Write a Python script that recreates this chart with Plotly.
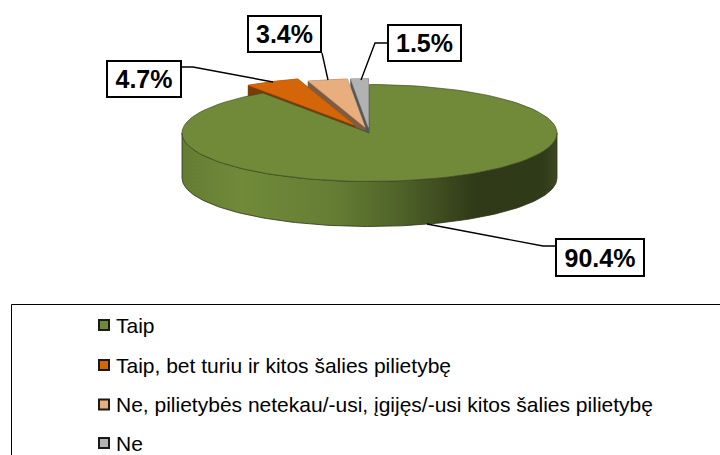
import numpy as np
import plotly.graph_objects as go

# --- data ---
categories = ["Taip", "Taip, bet turiu ir kitos šalies pilietybę",
              "Ne, pilietybės netekau/-usi, įgijęs/-usi kitos šalies pilietybę", "Ne"]
values = [90.4, 4.7, 3.4, 1.5]

# --- style ---
top_colors = ["#708A3A", "#D46508", "#E8AE7E", "#B2B2B2"]
wall_colors = ["#4f6329", "#7a3b08", "#7d5c42", "#55585c"]
explode = [0.0, 0.18, 0.12, 0.12]
CX, CY, RX, RY, DEPTH = 369.5, 133.0, 187.5, 48.5, 45.0
FONT = "Liberation Sans"

label_boxes = [(600, 257.5, 90, 39), (144, 79, 76, 38), (284.5, 34, 75, 38), (424.5, 43, 75, 38)]
leaders = [
    ([555, 543, 427], [246, 246, 224]),
    ([182, 193, 273], [67, 67, 82]),
    ([322, 328], [53, 80]),
    ([387, 375, 361], [43, 43, 80]),
]


def ell(theta_deg, dx=0.0, dy=0.0):
    t = np.radians(theta_deg)
    return CX + RX * np.sin(t) + dx, CY - RY * np.cos(t) + dy


def sector(a0, a1, dx=0.0, dy=0.0, n=120):
    th = np.linspace(a0, a1, n)
    xs, ys = ell(th, dx, dy)
    return [CX + dx, *xs, CX + dx], [CY + dy, *ys, CY + dy]


def poly(xs, ys, color, lw=0.5):
    return go.Scatter(x=list(xs), y=list(ys), mode="lines", fill="toself", fillcolor=color,
                      line=dict(color=color, width=lw), hoverinfo="skip", showlegend=False)


def slice_traces(a0, a1, e, top, wall):
    mid = np.radians((a0 + a1) / 2)
    dx, dy = RX * e * np.sin(mid), -RY * e * np.cos(mid)
    out = []
    px, py = sector(a0, a1, dx, dy + DEPTH)
    out.append(poly(px, py, wall))
    for a in (a0, a1):
        ex, ey = ell(a, dx, dy)
        out.append(poly([CX + dx, ex, ex, CX + dx, CX + dx],
                        [CY + dy, ey, ey + DEPTH, CY + dy + DEPTH, CY + dy], wall))
    th = np.linspace(a0, a1, 40)
    ax, ay = ell(th, dx, dy)
    out.append(poly(list(ax) + list(ax[::-1]) + [ax[0]],
                    list(ay) + list((ay + DEPTH)[::-1]) + [ay[0]], wall))
    tx, ty = sector(a0, a1, dx, dy)
    out.append(poly(tx, ty, top))
    return out


total = sum(values)
bounds = np.cumsum([0] + values) / total * 360.0
fig = go.Figure()

# small slices, back to front
for i in (3, 2, 1):
    for t in slice_traces(bounds[i], bounds[i + 1], explode[i], top_colors[i], wall_colors[i]):
        fig.add_trace(t)

# main slice side wall with shading
th = np.linspace(90, 270, 160)
sx, sy = ell(th)
fig.add_trace(go.Scatter(
    x=list(sx) + list(sx[::-1]) + [sx[0]],
    y=list(sy) + list((sy + DEPTH)[::-1]) + [sy[0]],
    mode="lines", fill="toself",
    fillgradient=dict(type="horizontal", colorscale=[
        [0.0, "#647C32"], [0.16, "#708A3A"], [0.40, "#657E34"], [0.58, "#4F6329"],
        [0.78, "#303A18"], [0.96, "#2F3A19"], [1.0, "#3C4822"]]),
    line=dict(color="#2b3316", width=0.8), hoverinfo="skip", showlegend=False))

# main slice top
tx, ty = sector(bounds[0], bounds[1])
fig.add_trace(go.Scatter(x=tx, y=ty, mode="lines", fill="toself", fillcolor=top_colors[0],
                         line=dict(color="#3d4a20", width=0.7), hoverinfo="skip", showlegend=False))

# leader lines
for lx, ly in leaders:
    fig.add_trace(go.Scatter(x=lx, y=ly, mode="lines", line=dict(color="black", width=1.4),
                             hoverinfo="skip", showlegend=False))

# value labels
annotations = []
for v, (bx, by, bw, bh) in zip(values, label_boxes):
    annotations.append(dict(x=bx, y=by, xref="x", yref="y", text=f"<b>{v:.1f}%</b>", showarrow=False,
                            font=dict(family=FONT, size=25, color="black"), bgcolor="white",
                            bordercolor="black", borderwidth=2, borderpad=0,
                            width=bw - 4, height=bh - 4, align="center", valign="middle",
                            xanchor="center", yanchor="middle"))

# legend rows
row_y = [325, 365, 404.5, 443]
fig.add_trace(go.Scatter(x=[104] * 4, y=row_y, mode="markers",
                         marker=dict(symbol="square", size=10, color=top_colors,
                                     line=dict(color="#1a1a1a", width=2)),
                         hoverinfo="skip", showlegend=False))
for name, ry in zip(categories, row_y):
    annotations.append(dict(x=114, y=ry, xref="x", yref="y", text=name, showarrow=False,
                            font=dict(family=FONT, size=21, color="black"),
                            xanchor="left", yanchor="middle"))

fig.update_layout(
    width=720, height=455, margin=dict(l=0, r=0, t=0, b=0),
    paper_bgcolor="white", plot_bgcolor="white", showlegend=False,
    xaxis=dict(range=[0, 720], visible=False, fixedrange=True),
    yaxis=dict(range=[455, 0], visible=False, fixedrange=True),
    annotations=annotations,
    shapes=[dict(type="path", path="M 725,304.5 L 11.5,304.5 L 11.5,460", xref="x", yref="y",
                 line=dict(color="black", width=1))],
)
fig.write_html("out.html", config={"displayModeBar": False},
               post_script="document.body.style.margin='0';document.body.style.overflow='hidden';")
